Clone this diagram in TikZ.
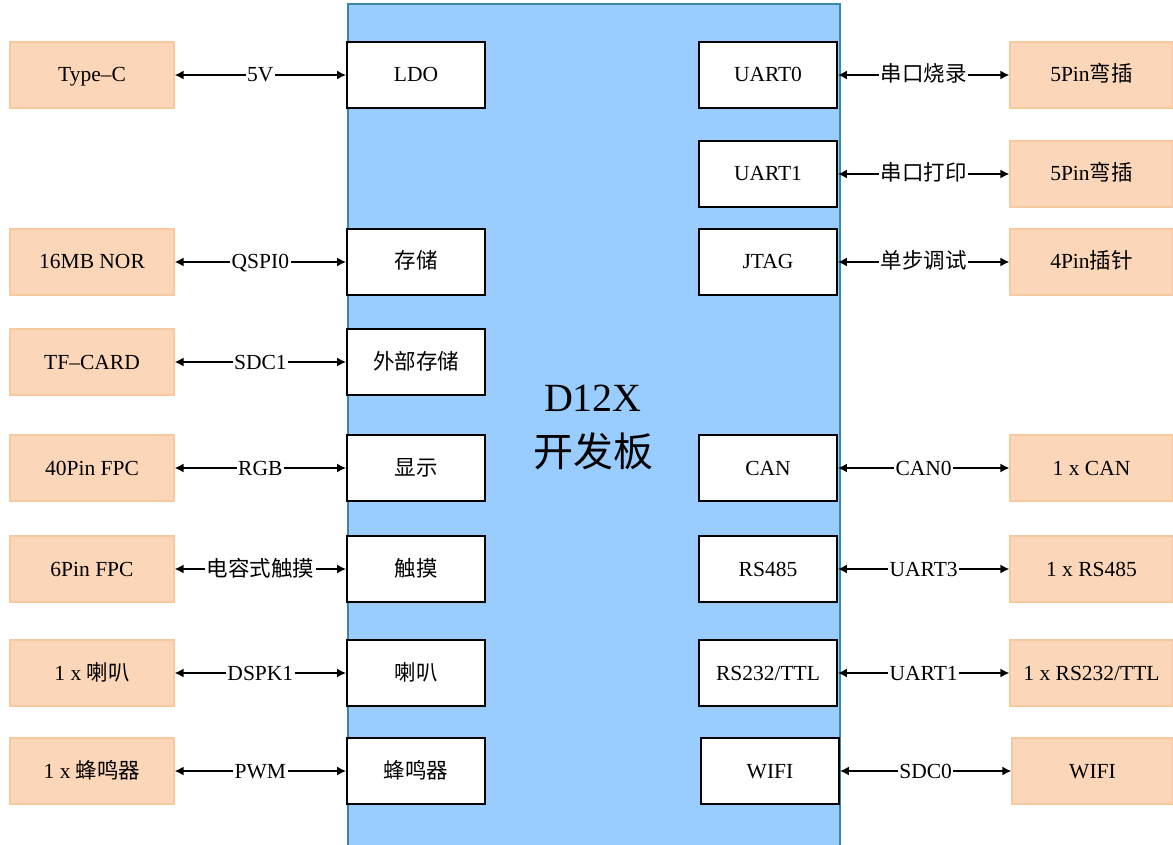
\documentclass[tikz,border=0pt]{standalone}
\usepackage{fontspec}
\setmainfont{Liberation Serif}
\newfontfamily\cjk{Noto Sans CJK SC}
\usetikzlibrary{arrows.meta}
\definecolor{peach}{HTML}{FBD6B8}
\definecolor{peachb}{HTML}{F8C89E}
\definecolor{boardfill}{HTML}{99CCFF}
\definecolor{boardline}{HTML}{3A88A8}
\tikzset{
  fs/.style={font=\fontsize{21.5pt}{24pt}\selectfont, text height=16pt, text depth=2pt},
  ext/.style={fs, draw=peachb, fill=peach, line width=1.2pt, minimum width=164pt, minimum height=66pt, inner sep=0pt},
  inb/.style={fs, draw=black, fill=white, line width=1.8pt, minimum width=138pt, minimum height=66pt, inner sep=0pt},
  link/.style={{Latex[length=9pt,width=9pt]}-{Latex[length=9pt,width=9pt]}, line width=1.6pt},
  lab/.style={fs, fill=white, inner sep=1.5pt}
}
\begin{document}
\begin{tikzpicture}[x=1pt,y=-1pt]
\useasboundingbox (0,0) rectangle (1173,845);
\path[fill=white] (0,0) rectangle (1173,845);
\node[draw=boardline, fill=boardfill, line width=1.6pt, anchor=north west, minimum width=492pt, minimum height=850pt, inner sep=0pt] (board) at (347,3) {};
\node[font=\fontsize{40pt}{44pt}\selectfont] (title1) at (593,398) {D12X};
\node[font=\fontsize{40pt}{44pt}\selectfont] (title2) at (593,451) {\cjk 开发板};

% left side
\node[ext] (e1) at (92,75) {Type–C};
\node[inb] (i1) at (416,75) {LDO};
\node[ext] (e2) at (92,262) {16MB NOR};
\node[inb] (i2) at (416,262) {\cjk 存储};
\node[ext] (e3) at (92,362) {TF–CARD};
\node[inb] (i3) at (416,362) {\cjk 外部存储};
\node[ext] (e4) at (92,468) {40Pin FPC};
\node[inb] (i4) at (416,468) {\cjk 显示};
\node[ext] (e5) at (92,569) {6Pin FPC};
\node[inb] (i5) at (416,569) {\cjk 触摸};
\node[ext] (e6) at (92,673) {1 x {\cjk 喇叭}};
\node[inb] (i6) at (416,673) {\cjk 喇叭};
\node[ext] (e7) at (92,771) {1 x {\cjk 蜂鸣器}};
\node[inb] (i7) at (416,771) {\cjk 蜂鸣器};

\draw[link] (e1.east) -- node[lab]{5V} (i1.west);
\draw[link] (e2.east) -- node[lab]{QSPI0} (i2.west);
\draw[link] (e3.east) -- node[lab]{SDC1} (i3.west);
\draw[link] (e4.east) -- node[lab]{RGB} (i4.west);
\draw[link] (e5.east) -- node[lab]{\cjk 电容式触摸} (i5.west);
\draw[link] (e6.east) -- node[lab]{DSPK1} (i6.west);
\draw[link] (e7.east) -- node[lab]{PWM} (i7.west);

% right side
\node[inb] (r1) at (768,75) {UART0};
\node[ext, minimum width=163pt] (f1) at (1091.5,75) {5Pin{\cjk 弯插}};
\node[inb] (r2) at (768,174) {UART1};
\node[ext, minimum width=163pt] (f2) at (1091.5,174) {5Pin{\cjk 弯插}};
\node[inb] (r3) at (768,262) {JTAG};
\node[ext, minimum width=163pt] (f3) at (1091.5,262) {4Pin{\cjk 插针}};
\node[inb] (r4) at (768,468) {CAN};
\node[ext, minimum width=163pt] (f4) at (1091.5,468) {1 x CAN};
\node[inb] (r5) at (768,569) {RS485};
\node[ext, minimum width=163pt] (f5) at (1091.5,569) {1 x RS485};
\node[inb] (r6) at (768,673) {RS232/TTL};
\node[ext, minimum width=163pt] (f6) at (1091.5,673) {1 x RS232/TTL};
\node[inb] (r7) at (770,771) {WIFI};
\node[ext, minimum width=161pt] (f7) at (1092.5,771) {WIFI};

\draw[link] (r1.east) -- node[lab]{\cjk 串口烧录} (f1.west);
\draw[link] (r2.east) -- node[lab]{\cjk 串口打印} (f2.west);
\draw[link] (r3.east) -- node[lab]{\cjk 单步调试} (f3.west);
\draw[link] (r4.east) -- node[lab]{CAN0} (f4.west);
\draw[link] (r5.east) -- node[lab]{UART3} (f5.west);
\draw[link] (r6.east) -- node[lab]{UART1} (f6.west);
\draw[link] (r7.east) -- node[lab]{SDC0} (f7.west);
\end{tikzpicture}
\end{document}
